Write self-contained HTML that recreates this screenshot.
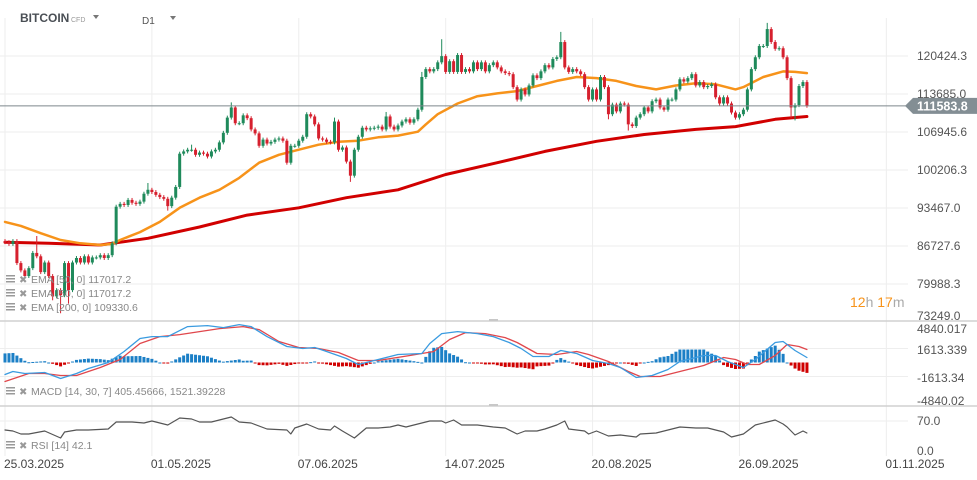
<!DOCTYPE html>
<html><head><meta charset="utf-8">
<style>
html,body{margin:0;padding:0;background:#fff;}
body{width:977px;height:480px;overflow:hidden;position:relative;font-family:"Liberation Sans",sans-serif;}
svg{position:absolute;left:0;top:0;}
text{font-family:"Liberation Sans",sans-serif;}
</style></head>
<body>
<svg id="chart" width="977" height="480" viewBox="0 0 977 480">
  <g id="grid"></g>
  <g id="header">
    <text x="20" y="22" font-size="12" font-weight="bold" fill="#4a4f55">BITCOIN</text>
    <text x="71" y="22" font-size="7" fill="#999">CFD</text>
    <path d="M93 15 L99 15 L96 19 Z" fill="#777"/>
    <text x="142" y="24" font-size="10" fill="#555">D1</text>
    <path d="M170 16 L176 16 L173 20 Z" fill="#777"/>
  </g>
  <g id="marks"></g>
  <g id="axes"></g>
</svg>
<script>
// ---- price data (thousands USD), one candle per day starting 25.03.2025 ----
const closes = [87.4,87.1,87.6,83.7,82.4,81.4,82.8,85.5,84.9,82.1,83.8,81.4,77.8,78.9,78.0,83.7,78.9,83.8,84.6,83.8,
84.9,83.8,84.7,84.7,85.1,84.6,85.1,87.2,93.7,94.2,94.0,94.9,94.4,94.2,94.6,96.0,96.7,96.3,95.8,95.4,
95.1,93.8,95.3,97.2,103.1,103.5,103.8,103.8,102.9,103.3,103.1,102.6,103.5,103.8,105.1,106.8,109.5,111.3,108.5,108.5,
109.9,109.4,107.4,106.7,104.5,105.6,104.9,105.2,105.6,105.8,105.4,101.5,104.5,104.5,105.4,106.1,110.1,109.7,108.3,105.8,
105.6,105.2,105.1,108.8,103.8,104.2,101.7,99.2,103.8,106.1,107.7,107.4,107.6,107.7,107.9,107.4,109.7,107.9,107.4,108.1,
108.8,109.2,108.6,109.2,110.9,116.7,118.1,117.7,118.1,119.3,120.4,117.6,119.5,117.6,120.6,117.6,118.1,117.7,119.3,118.1,
119.3,117.7,118.8,119.3,118.4,117.7,117.4,117.2,114.9,112.7,114.5,113.6,115.2,117.0,116.5,117.7,118.8,118.4,119.9,120.2,
122.9,118.4,117.6,118.1,117.7,117.2,114.9,112.7,114.5,112.7,116.7,114.9,110.1,111.8,110.6,112.0,111.8,108.3,108.0,109.5,
110.1,111.3,110.6,112.4,112.7,111.3,110.9,112.7,112.7,114.5,116.3,115.9,116.5,117.2,115.2,115.8,114.9,115.1,115.4,113.1,
112.0,113.1,112.0,110.4,109.5,110.1,110.9,114.5,118.1,120.2,122.2,122.2,125.2,122.9,121.7,121.8,120.2,116.5,111.3,111.7,
115.1,115.8,111.6];
const firstOpen = 87.6;
// notable wick extremes (candle index -> price)
const wickHighIdx = [8,36,47,57,110,140,192,83,96,105];
const wickHighVal = [88.5,97.9,104.7,112.2,123.4,124.7,126.3,109.5,110.5,117.6];
const wickLowIdx  = [12,14,16,87,152,157,198,199,41];
const wickLowVal  = [77.1,74.8,76.5,98.1,109.2,107.2,109.4,109.0,93.0];
// EMA samples (candle index, price k)
const ema50Idx = [0,4,9,14,19,24,27,29,34,39,44,49,54,59,64,69,74,79,84,89,94,99,104,106,109,114,119,124,129,134,139,144,149,154,159,164,169,174,179,184,186,191,196,199,202];
const ema50Val = [91.0,90.3,89.0,87.8,87.2,86.9,87.1,87.8,89.2,91.0,93.5,95.3,96.7,98.8,101.5,102.9,103.8,104.7,105.2,105.4,106.0,106.3,107.0,108.3,110.1,112.0,113.3,113.8,114.2,115.1,116.0,116.7,116.5,116.0,115.1,114.5,115.2,115.6,115.4,114.5,114.9,116.7,117.7,117.6,117.4];
const ema200Idx = [0,11,24,36,49,61,74,86,99,111,124,136,149,161,174,184,194,202];
const ema200Val = [87.4,87.2,86.9,88.1,90.1,92.2,93.5,95.3,96.7,99.4,101.5,103.5,105.3,106.5,107.4,107.9,109.2,109.7];
// MACD
const macdIdx = [0,2,5,10,14,18,21,26,30,34,37,41,46,51,55,59,62,66,71,75,78,81,86,89,91,94,99,105,107,110,114,119,123,127,130,133,137,140,144,148,152,155,159,163,167,170,176,179,182,186,189,194,196,199,202];
const macdVal = [-1380,-1035,-1265,-1150,-1840,-1265,-690,0,1265,2760,2990,2990,4140,4255,4025,4370,4140,2990,1840,1610,1725,1265,460,-230,0,345,920,1035,2185,3335,3565,3335,2990,2300,1610,690,690,1380,1035,230,-115,-575,-1725,-1495,-805,115,805,805,115,-575,345,2300,2415,1380,575];
const signalIdx = [0,6,10,14,18,24,29,34,39,44,49,54,60,64,69,74,79,84,89,94,102,108,112,116,121,126,129,134,139,144,147,152,157,160,165,170,176,181,184,187,190,194,197,200,202];
const signalVal = [-2185,-1265,-1265,-1495,-1495,-575,345,2185,2990,3220,3565,3910,4140,3795,2415,1725,1610,1150,230,230,805,1265,2645,3450,3335,2875,2300,1035,920,1265,920,115,-1035,-1610,-1610,-1035,-345,575,345,-230,-230,805,2070,1840,1495];
// RSI
const rsiIdx = [0,2,4,6,10,14,15,18,21,26,28,32,35,37,41,44,47,49,52,57,59,62,66,71,72,73,76,79,82,83,85,88,91,94,97,99,101,102,106,107,110,111,113,115,119,123,126,129,131,134,136,139,141,142,146,147,149,152,155,159,160,164,167,170,174,177,181,183,186,189,192,194,196,197,199,201,202];
const rsiVal = [49,46.7,39.7,39.7,46.7,30.3,44.3,49,49,51.3,67.7,67.7,65.3,70,60.7,77,74.7,67.7,67.7,79.3,67.7,65.3,51.3,49,39.7,53.7,63,51.3,49,58.3,46.7,30.3,53.7,53.7,56,60.7,56,58.3,67.7,70,70,65.3,72.3,60.7,60.7,56,53.7,39.7,46.7,46.7,51.3,60.7,70,51.3,46.7,39.7,46.7,35,37.3,32.7,39.7,42,49,56,53.7,53.7,44.3,32.7,39.7,60.7,67.7,72.3,63,56,37.3,46.7,42.1];
// axis labels
const priceTicks = [120424.3,113685.0,106945.6,100206.3,93467.0,86727.6,79988.3,73249.0];
const macdTicks = [4840.017,1613.339,-1613.34,-4840.02];
const macdTickLabels = ["4840.017","1613.339","-1613.34","-4840.02"];
const rsiTicks = [70,0];
const dateLabels = ["25.03.2025","01.05.2025","07.06.2025","14.07.2025","20.08.2025","26.09.2025","01.11.2025"];
const dateIdx = [0,37,74,111,148,185,222];
const lastPrice = 111583.8;

const NS="http://www.w3.org/2000/svg";
function mk(tag, attrs, parent){const e=document.createElementNS(NS,tag);for(const k in attrs)e.setAttribute(k,attrs[k]);parent.appendChild(e);return e;}
const xOf = i => 5 + 3.97*i;
const yP = p => 94 + (113.685 - p)*38/6.7393;            // p in thousands
const yM = v => 362.5 - v*28/3226.68;
const yR = v => 451 - v*30/70;
const grid=document.getElementById('grid'), marks=document.getElementById('marks'), axes=document.getElementById('axes');

// grid
priceTicks.forEach(t=>{ if(t>75000){const l=mk('line',{x1:0,x2:908,y1:yP(t/1000),y2:yP(t/1000),stroke:'#eeeeee','stroke-width':1},grid);

}});
[1613.339,-1613.34].forEach(t=>{const l=mk('line',{x1:0,x2:908,y1:yM(t),y2:yM(t),stroke:'#eeeeee'},grid);

});
{const l=mk('line',{x1:0,x2:908,y1:yR(70),y2:yR(70),stroke:'#eeeeee'},grid);

}
dateIdx.forEach(i=>{const l=mk('line',{x1:xOf(i),x2:xOf(i),y1:18,y2:456,stroke:'#eeeeee'},grid);

});
// panel separators
[321,406].forEach((y,k)=>{const l=mk('line',{x1:0,x2:977,y1:y,y2:y,stroke:'#d0d0d0','stroke-width':1.5},grid);


const h=mk('rect',{x:489,y:y-2,width:9,height:2,fill:'#c8c8c8'},grid);

});

// EMA lines
function polyline(idx, vals, yf, color, w, name){
  const pts = idx.map((i,k)=>xOf(i).toFixed(1)+','+yf(vals[k]).toFixed(1)).join(' ');
  const p=mk('polyline',{points:pts,fill:'none',stroke:color,'stroke-width':w,'stroke-linejoin':'round','stroke-linecap':'round'},marks);
  
  
}
polyline(ema200Idx, ema200Val, yP, '#d10000', 3, 'ema-200-line');
polyline(ema50Idx, ema50Val, yP, '#f7931a', 2.5, 'ema-50-line');

// candles
closes.forEach((c,i)=>{
  const o = i===0 ? firstOpen : closes[i-1];
  const up = c>=o;
  let hi = Math.max(o,c)+0.35, lo = Math.min(o,c)-0.35;
  const hk = wickHighIdx.indexOf(i); if(hk>=0) hi = wickHighVal[hk];
  const lk = wickLowIdx.indexOf(i); if(lk>=0) lo = wickLowVal[lk];
  const col = up ? '#1f8a5b' : '#d6202e';
  const x = xOf(i);
  const g = mk('g',{},marks);
  
  
  mk('line',{x1:x,x2:x,y1:yP(hi),y2:yP(lo),stroke:col,'stroke-width':1},g);
  const yt=yP(Math.max(o,c)), yb=yP(Math.min(o,c));
  mk('rect',{x:x-1.5,y:yt,width:3,height:Math.max(1,yb-yt),fill:col},g);
});

// current price line
{const y=yP(lastPrice/1000);
const l=mk('line',{x1:0,x2:906,y1:y,y2:y,stroke:'#7d878c','stroke-width':1},marks);


const tag=mk('path',{d:`M905 ${y} L913 ${y-8} L977 ${y-8} L977 ${y+8} L913 ${y+8} Z`,fill:'#838e94'},axes);


const t=mk('text',{x:917,y:y+4.5,'font-size':12.5,'font-weight':'bold',fill:'#fff'},axes);
t.textContent='111583.8';

}

// price axis labels
priceTicks.forEach(t=>{const tx=mk('text',{x:917,y:Math.min(yP(t/1000)+4,320),'font-size':12,fill:'#555'},axes);
tx.textContent=t.toFixed(1);

});

// countdown
{const t=mk('text',{x:850,y:307,'font-size':14},axes);
t.innerHTML='<tspan fill="#f7931a">12</tspan><tspan fill="#aaa">h </tspan><tspan fill="#f7931a">17</tspan><tspan fill="#aaa">m</tspan>';

}

// MACD histogram (macd - signal at each candle)
function interp(idx, vals, i){
  if(i<=idx[0]) return vals[0];
  for(let k=1;k<idx.length;k++){ if(i<=idx[k]){const t=(i-idx[k-1])/(idx[k]-idx[k-1]); return vals[k-1]+t*(vals[k]-vals[k-1]);} }
  return vals[vals.length-1];
}
closes.forEach((_,i)=>{
  const h=(interp(macdIdx,macdVal,i)-interp(signalIdx,signalVal,i))*1.3;
  const y0=yM(0), y1=yM(h);
  const r=mk('rect',{x:xOf(i)-1.5,y:Math.min(y0,y1),width:3,height:Math.max(1,Math.abs(y1-y0)),fill:h>=0?'#1b7fc6':'#d00000'},marks);
  
  
});
polyline(signalIdx, signalVal, yM, '#e0474c', 1.3, 'macd-signal-line');
polyline(macdIdx, macdVal, yM, '#3a9be0', 1.3, 'macd-line');
macdTicks.forEach((t,k)=>{const tx=mk('text',{x:917,y:[333,354,382,405][k],'font-size':12,fill:'#555'},axes);
tx.textContent=macdTickLabels[k];

});

// RSI
polyline(rsiIdx, rsiVal, yR, '#555', 1.2, 'rsi-line');
rsiTicks.forEach(t=>{const tx=mk('text',{x:917,y:yR(t)+4,'font-size':12,fill:'#555'},axes);
tx.textContent=t.toFixed(1);

});

// date labels
dateLabels.forEach((d,k)=>{const tx=mk('text',{x:xOf(dateIdx[k])-1,y:468,'font-size':12,fill:'#444'},axes);
tx.textContent=d;

});

// legends
function legend(y,txt,name){
  const g=mk('g',{},axes);
  
  
  mk('rect',{x:6,y:y-7,width:9,height:1.5,fill:'#999'},g);
  mk('rect',{x:6,y:y-4,width:9,height:1.5,fill:'#999'},g);
  mk('rect',{x:6,y:y-1,width:9,height:1.5,fill:'#999'},g);
  const x=mk('text',{x:19,y:y+1,'font-size':10,fill:'#999'},g); x.textContent='✖';
  const t=mk('text',{x:31,y:y+1,'font-size':10.5,fill:'#888'},g); t.textContent=txt;
}
legend(282,'EMA [50,  0]  117017.2','ema-50-legend');
legend(296,'EMA [50,  0]  117017.2','ema-50-legend-2');
legend(310,'EMA [200,  0]  109330.6','ema-200-legend');
legend(394,'MACD [14, 30, 7]  405.45666,   1521.39228','macd-legend');
legend(448,'RSI [14]  42.1','rsi-legend');
</script>
</body></html>
